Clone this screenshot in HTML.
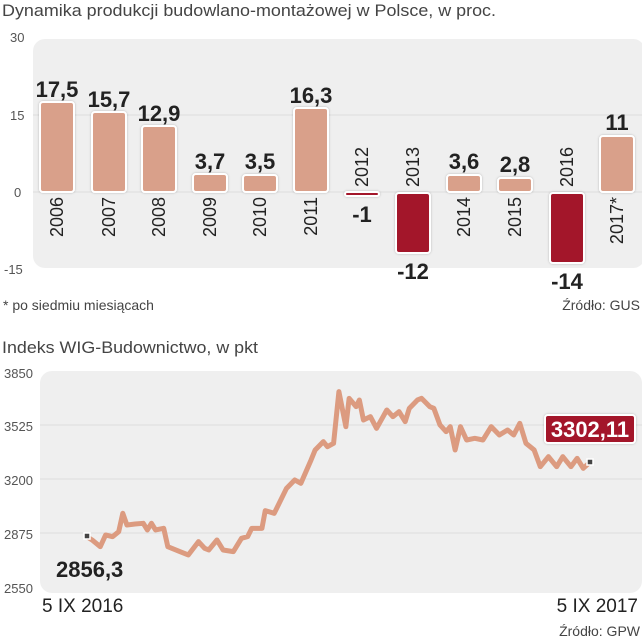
<!DOCTYPE html>
<html><head><meta charset="utf-8"><style>
html,body{margin:0;padding:0;background:#fff;width:642px;height:640px;overflow:hidden}
svg{display:block;font-family:"Liberation Sans",sans-serif}
.t{fill:#444;font-size:17px}
.ax{fill:#555;font-size:13px}
.v{font-family:"Liberation Sans",sans-serif;font-weight:bold;font-size:22px;fill:#222;text-anchor:middle}
.y{fill:#222;font-size:18px;text-anchor:end}
</style></head><body>
<svg width="642" height="640" viewBox="0 0 642 640">
<defs><filter id="sh" x="-20%" y="-20%" width="140%" height="140%"><feDropShadow dx="0" dy="0" stdDeviation="1" flood-color="#000" flood-opacity="0.25"/></filter></defs>
<text x="2" y="16" class="t" textLength="494" lengthAdjust="spacingAndGlyphs">Dynamika produkcji budowlano-montażowej w Polsce, w proc.</text>
<rect x="33" y="39" width="612" height="229" rx="12" fill="#efefef"/>
<line x1="33" y1="115" x2="642" y2="115" stroke="#ddd"/>
<line x1="33" y1="192" x2="642" y2="192" stroke="#ddd"/>
<text x="10" y="42" class="ax">30</text>
<text x="10" y="120" class="ax">15</text>
<text x="14" y="197" class="ax">0</text>
<text x="4" y="274" class="ax">-15</text>
<g filter="url(#sh)" stroke="#fff" stroke-width="2">
<rect x="40" y="102" width="34" height="90" rx="3" fill="#d9a08a"/>
<rect x="92" y="112" width="34" height="80" rx="3" fill="#d9a08a"/>
<rect x="142" y="126" width="34" height="66" rx="3" fill="#d9a08a"/>
<rect x="193" y="174" width="34" height="18" rx="3" fill="#d9a08a"/>
<rect x="243" y="175" width="34" height="17" rx="3" fill="#d9a08a"/>
<rect x="294" y="108" width="34" height="84" rx="3" fill="#d9a08a"/>
<rect x="345" y="192" width="34" height="4" rx="2" fill="#a3132b"/>
<rect x="396" y="193" width="34" height="60" rx="3" fill="#a3132b"/>
<rect x="447" y="175" width="34" height="17" rx="3" fill="#d9a08a"/>
<rect x="498" y="178" width="34" height="14" rx="3" fill="#d9a08a"/>
<rect x="550" y="193" width="34" height="70" rx="3" fill="#a3132b"/>
<rect x="600" y="136" width="34" height="56" rx="3" fill="#d9a08a"/>
</g>
<g>
<text x="57" y="97" class="v">17,5</text>
<text x="109" y="107" class="v">15,7</text>
<text x="159" y="121" class="v">12,9</text>
<text x="210" y="169" class="v">3,7</text>
<text x="260" y="169" class="v">3,5</text>
<text x="311" y="103" class="v">16,3</text>
<text x="362" y="222" class="v">-1</text>
<text x="413" y="279" class="v">-12</text>
<text x="464" y="169" class="v">3,6</text>
<text x="515" y="172" class="v">2,8</text>
<text x="567" y="289" class="v">-14</text>
<text x="617" y="130" class="v">11</text>
</g>
<g>
<text class="y" transform="translate(63,197) rotate(-90)">2006</text>
<text class="y" transform="translate(115,197) rotate(-90)">2007</text>
<text class="y" transform="translate(165,197) rotate(-90)">2008</text>
<text class="y" transform="translate(216,197) rotate(-90)">2009</text>
<text class="y" transform="translate(266,197) rotate(-90)">2010</text>
<text class="y" transform="translate(317,197) rotate(-90)">2011</text>
<text class="y" transform="translate(368,187) rotate(-90)" style="text-anchor:start">2012</text>
<text class="y" transform="translate(419,187) rotate(-90)" style="text-anchor:start">2013</text>
<text class="y" transform="translate(470,197) rotate(-90)">2014</text>
<text class="y" transform="translate(521,197) rotate(-90)">2015</text>
<text class="y" transform="translate(573,187) rotate(-90)" style="text-anchor:start">2016</text>
<text class="y" transform="translate(623,197) rotate(-90)">2017*</text>
</g>
<text x="3" y="310" fill="#444" font-size="14">* po siedmiu miesiącach</text>
<text x="640" y="310" fill="#444" font-size="14" text-anchor="end">Źródło: GUS</text>

<text x="2" y="353" class="t" textLength="256" lengthAdjust="spacingAndGlyphs">Indeks WIG-Budownictwo, w pkt</text>
<rect x="40" y="371" width="602" height="222" rx="12" fill="#efefef"/>
<line x1="40" y1="425" x2="642" y2="425" stroke="#ddd"/>
<line x1="40" y1="479" x2="642" y2="479" stroke="#ddd"/>
<line x1="40" y1="533" x2="642" y2="533" stroke="#ddd"/>
<text x="4" y="378" class="ax">3850</text>
<text x="4" y="431" class="ax">3525</text>
<text x="4" y="485" class="ax">3200</text>
<text x="4" y="539" class="ax">2875</text>
<text x="4" y="593" class="ax">2550</text>
<g transform="translate(0,340) scale(0.4093,0.3333)">
<polyline fill="none" stroke="#dc9b80" stroke-width="5" vector-effect="non-scaling-stroke" stroke-linejoin="round" points="212,590 225,600 245,620 258,585 275,590 290,575 300,520 310,555 330,552 350,550 360,570 370,550 380,570 400,565 410,620 440,635 460,645 485,605 500,625 510,630 530,600 545,630 570,635 590,595 605,590 615,565 640,565 648,512 670,520 700,445 720,420 735,430 760,360 770,330 790,305 800,320 815,310 828,155 845,260 853,175 870,200 878,180 888,240 905,230 920,265 945,210 960,230 975,215 990,245 1000,205 1020,180 1030,175 1050,200 1060,205 1075,255 1090,275 1100,260 1112,330 1125,260 1140,300 1160,295 1180,300 1200,260 1220,285 1240,270 1255,285 1270,250 1285,310 1305,330 1320,380 1340,350 1360,380 1375,350 1395,380 1410,355 1425,385 1440,368"/>
</g>
<rect x="84" y="533" width="6" height="6" fill="#444" stroke="#fff" stroke-width="1.5"/>
<rect x="587" y="459" width="6" height="6" fill="#444" stroke="#fff" stroke-width="1.5"/>
<text x="56" y="577" class="v" style="text-anchor:start">2856,3</text>
<rect x="545" y="415" width="90" height="28" rx="3" fill="#a3132b" stroke="#fff" stroke-width="2" filter="url(#sh)"/>
<text x="590" y="437" class="v" style="fill:#fff">3302,11</text>
<text x="42" y="612" fill="#222" font-size="19">5 IX 2016</text>
<text x="638" y="612" fill="#222" font-size="19" text-anchor="end">5 IX 2017</text>
<text x="640" y="636" fill="#444" font-size="14" text-anchor="end">Źródło: GPW</text>
</svg>
</body></html>
